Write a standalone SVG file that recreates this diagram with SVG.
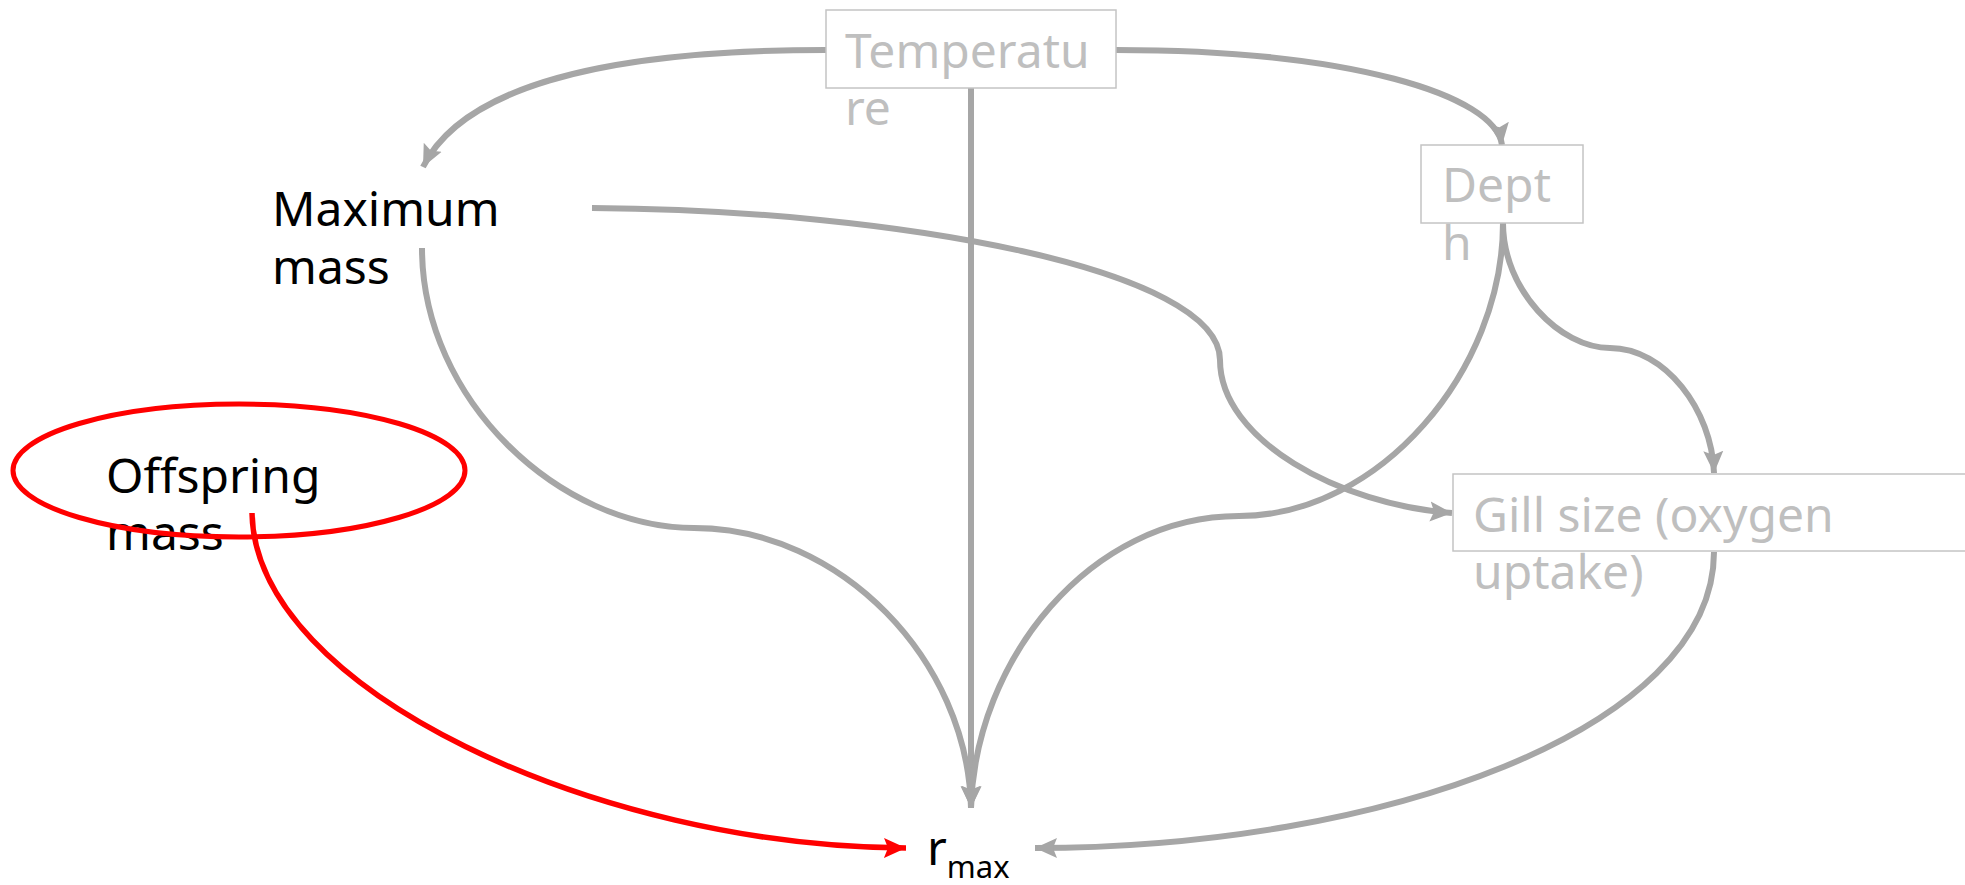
<svg xmlns="http://www.w3.org/2000/svg" width="1965" height="885" viewBox="0 0 1965 885">
<style>
text{font-family:"Noto Sans","Open Sans","Liberation Sans",sans-serif;font-size:48px}
.dim{fill:#bfbfbf}
.blk{fill:#000}
.box{fill:#fff;stroke:#c4c4c4;stroke-width:1.5}
.e{fill:none;stroke:#a6a6a6;stroke-width:6}
.r{fill:none;stroke:#ff0000;stroke-width:5.5}
</style>
<defs>
<marker id="ag" markerUnits="userSpaceOnUse" markerWidth="26" markerHeight="26" viewBox="0 0 26 26" refX="22" refY="13" orient="auto">
<path d="M0,3 L22,13 L0,23 L4,13 Z" fill="#a6a6a6"/>
</marker>
<marker id="ar" markerUnits="userSpaceOnUse" markerWidth="26" markerHeight="26" viewBox="0 0 26 26" refX="22" refY="13" orient="auto">
<path d="M0,3 L22,13 L0,23 L4,13 Z" fill="#ff0000"/>
</marker>
</defs>
<g id="connectors">
<path class="e" marker-end="url(#ag)" d="M826,50 C 590,50 460,92 423,167"/>
<path class="e" marker-end="url(#ag)" d="M1116,50 C 1350,50 1495,95 1502,145"/>
<path class="e" marker-end="url(#ag)" d="M971,88 L971,808"/>
<path class="e" marker-end="url(#ag)" d="M422,248 C 422,400 560,528 694,528 C 840,528 968,660 971,808"/>
<path class="e" marker-end="url(#ag)" d="M592,208 C 900,210 1220,270 1220,360 C 1220,440 1340,505 1452,513"/>
<path class="e" marker-end="url(#ag)" d="M1503,223 C 1503,370 1380,516 1239,516 C 1090,516 975,660 971,808"/>
<path class="e" marker-end="url(#ag)" d="M1503,223 C 1503,290 1560,348 1610,348 C 1665,348 1712,410 1714,473"/>
<path class="e" marker-end="url(#ag)" d="M1714,552 C 1714,730 1380,848 1035,848"/>
<path class="r" marker-end="url(#ar)" d="M252,513 C 255,690 600,847 906,848"/>
</g>
<g id="temperature">
<rect class="box" x="826" y="10" width="290" height="78"/>
<text class="dim" x="845" y="68">Temperatu</text>
<text class="dim" x="845" y="125">re</text>
</g>
<g id="depth">
<rect class="box" x="1421" y="145" width="162" height="78"/>
<text class="dim" x="1442" y="202">Dept</text>
<text class="dim" x="1442" y="260">h</text>
</g>
<g id="gill">
<rect class="box" x="1453" y="474" width="520" height="77"/>
<text class="dim" x="1473" y="532">Gill size (oxygen</text>
<text class="dim" x="1473" y="589">uptake)</text>
</g>
<g id="maxmass">
<text class="blk" x="272" y="226">Maximum</text>
<text class="blk" x="272" y="284">mass</text>
</g>
<g id="offspring">
<text class="blk" x="106" y="493">Offspring</text>
<text class="blk" x="106" y="550">mass</text>
<ellipse cx="239" cy="470.5" rx="226" ry="66.5" fill="none" stroke="#ff0000" stroke-width="5"/>
</g>
<g id="rmax">
<text class="blk" x="927" y="865">r<tspan font-size="31" dy="13">max</tspan></text>
</g>
</svg>
